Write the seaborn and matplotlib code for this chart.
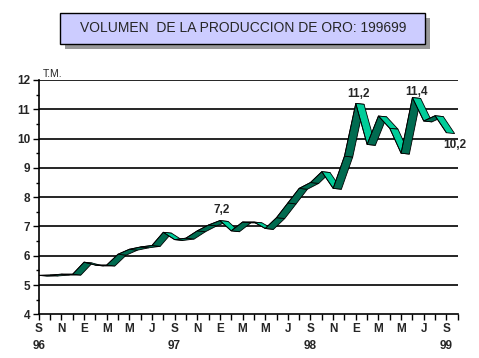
import matplotlib
matplotlib.use("Agg")
import matplotlib.pyplot as plt
import seaborn as sns
import pandas as pd
from matplotlib.patches import Polygon, Rectangle

# =====================================
# Data
# =====================================

month_labels = ["S", "N", "E", "M", "M", "J", "S", "N", "E", "M",
                "M", "J", "S", "N", "E", "M", "M", "J", "S"]
year_labels = {0: "96", 12: "97", 24: "98", 36: "99"}

month_idx = list(range(37))  # Sep 96 .. Sep 99
volumen = [5.33, 5.34, 5.37, 5.37, 5.78, 5.68, 5.68, 6.05, 6.22, 6.30,
           6.35, 6.80, 6.55, 6.60, 6.85, 7.05, 7.20, 6.85, 7.15, 7.15,
           6.93, 7.30, 7.80, 8.30, 8.50, 8.87, 8.30, 9.40, 11.20, 9.80,
           10.77, 10.35, 9.50, 11.40, 10.60, 10.78, 10.20]

# month index, text, label offset (months, T.M.)
notes = [(16, "7,2", 0.2, 0.36), (28, "11,2", 0.2, 0.32),
         (33, "11,4", 0.4, 0.2), (36, "10,2", 0.75, -0.42)]

df = pd.DataFrame({"mes": month_idx, "tm": volumen})

# =====================================
# Style
# =====================================

sns.set_style("white")
plt.rcParams["font.family"] = ["Liberation Sans Narrow", "Liberation Sans", "DejaVu Sans"]

dark = "#006B50"
light = "#00CC99"
depth_x = 0.73
depth_y = -0.03

fig = plt.figure(figsize=(4.79, 3.58), dpi=100)
ax = fig.add_axes([38.7 / 479, 1 - 314.3 / 358, 419 / 479, 234.3 / 358])

# =====================================
# Grid
# =====================================

for v in range(5, 13):
    ax.axhline(v, color="black", lw=1.2, zorder=1)

# =====================================
# 3D ribbon
# =====================================

for i in range(len(df) - 1):
    x0, y0 = df.mes[i], df.tm[i]
    x1, y1 = df.mes[i + 1], df.tm[i + 1]
    pts = [(x0, y0), (x1, y1), (x1 + depth_x, y1 + depth_y), (x0 + depth_x, y0 + depth_y)]
    col = dark if (y1 - y0) > depth_y / depth_x else light
    ax.add_patch(Polygon(pts, closed=True, facecolor=col, edgecolor="black",
                         lw=0.6, zorder=3))

sns.lineplot(data=df, x="mes", y="tm", color="black", lw=0.6, ax=ax, zorder=4)

for m, txt, ox, oy in notes:
    ax.text(m + ox, df.tm[m] + oy, txt, ha="center", va="center",
            fontsize=8.5, fontweight="bold", zorder=5, clip_on=False)

# =====================================
# Axes
# =====================================

ax.set_xlim(0, 37)
ax.set_ylim(4, 12)
ax.set_xlabel("")
ax.set_ylabel("")

xt = list(range(38))
xl = []
for t in xt:
    if t % 2 == 0 and t <= 36:
        lab = month_labels[t // 2]
        if t in year_labels:
            lab = lab + "\n" + year_labels[t]
        xl.append(lab)
    else:
        xl.append("")
ax.set_xticks(xt)
ax.set_xticklabels(xl, fontsize=8.5, fontweight="bold", linespacing=1.6)

ax.set_yticks(range(4, 13))
ax.set_yticks([v + 0.5 for v in range(4, 12)], minor=True)
ax.set_yticklabels([str(v) for v in range(4, 13)], fontsize=8.5, fontweight="bold")

ax.tick_params(axis="both", which="major", direction="out", length=4, width=1,
               color="black", pad=2, left=True, bottom=True)
ax.tick_params(axis="y", which="minor", direction="out", length=2, width=1,
               color="black", left=True)

for s in ["top", "right"]:
    ax.spines[s].set_visible(False)
for s in ["left", "bottom"]:
    ax.spines[s].set_color("black")
    ax.spines[s].set_linewidth(1.2)

fig.text(53 / 479, 1 - 74 / 358, "T.M.", fontsize=7.5, ha="center", va="center")

# =====================================
# Title box
# =====================================

fig.patches.append(Rectangle((65 / 479, 1 - 49 / 358), 365 / 479, 31.3 / 358,
                             transform=fig.transFigure, facecolor="#999999",
                             edgecolor="none", zorder=1))
fig.patches.append(Rectangle((60 / 479, 1 - 44 / 358), 365 / 479, 31.3 / 358,
                             transform=fig.transFigure, facecolor="#CCCCFF",
                             edgecolor="black", lw=1, zorder=2))
fig.text(243 / 479, 1 - 28.5 / 358, "VOLUMEN  DE LA PRODUCCION DE ORO: 199699",
         fontsize=10, ha="center", va="center", zorder=3)

fig.savefig("out.png", dpi=100)
plt.close()
